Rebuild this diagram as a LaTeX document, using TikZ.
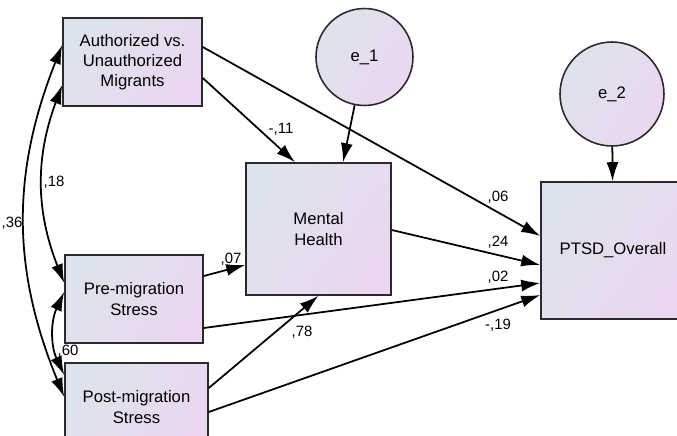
\documentclass[tikz,border=0pt]{standalone}
\usepackage{fontspec}
\setmainfont{Liberation Sans}
\usetikzlibrary{arrows.meta}
\definecolor{boxleft}{HTML}{DDE3EC}
\definecolor{boxright}{HTML}{EBD7F1}
\definecolor{edgegray}{HTML}{2A2A2A}

\begin{document}
\begin{tikzpicture}[x=0.02cm, y=-0.02cm,
    obs/.style={draw=edgegray, line width=0.9pt, left color=boxleft, right color=boxright,
      shading angle=55, align=center, inner sep=0pt, font=\fontsize{9.5}{11.5}\selectfont},
    err/.style={obs, circle},
    regr/.style={draw=black, line width=1pt, -{Latex[length=3.8mm, width=2.4mm]}},
    corr/.style={draw=black, line width=1pt, {Latex[length=3.8mm, width=2.4mm]}-{Latex[length=3.8mm, width=2.4mm]}},
    lab/.style={font=\fontsize{8.5}{9}\selectfont, inner sep=0pt}]
    \useasboundingbox (0,0) rectangle (677,436);
    \clip (0,0) rectangle (677,436);
    % observed variables
    \node[obs, minimum width=2.78cm, minimum height=1.76cm] (auth) at (132.5,62) {Authorized vs.\\Unauthorized\\Migrants};
    \node[obs, minimum width=2.76cm, minimum height=1.76cm] (pre) at (134,299) {Pre-migration\\Stress};
    \node[obs, minimum width=2.86cm, minimum height=1.76cm] (post) at (136.5,407) {Post-migration\\Stress};
    \node[obs, minimum width=2.90cm, minimum height=2.64cm] (mh) at (318.5,229) {Mental\\Health};
    \node[obs, minimum width=2.88cm, minimum height=2.74cm] (ptsd) at (613,250.5) {PTSD\_Overall};
    % error terms
    \node[err, minimum size=1.94cm] (e1) at (364.5,57) {e\_1};
    \node[err, minimum size=2.08cm] (e2) at (612,94) {e\_2};
    % regression paths
    \draw[regr] (e1) -- ([xshift=0.49cm]mh.north);
    \draw[regr] (e2) -- (ptsd);
    \draw[regr] ([yshift=-0.32cm]auth.east) -- ([xshift=-0.47cm]mh.north);
    \draw[regr] ([yshift=0.30cm]auth.east) -- ([yshift=0.29cm]ptsd.west);
    \draw[regr] ([yshift=-0.02cm]mh.east) -- ([yshift=-0.29cm]ptsd.west);
    \draw[regr] ([yshift=0.46cm]pre.east) -- ([yshift=-0.72cm]mh.west);
    \draw[regr] ([yshift=-0.58cm]pre.east) -- ([yshift=-0.65cm]ptsd.west);
    \draw[regr] ([yshift=0.38cm]post.east) -- (mh.south);
    \draw[regr] ([yshift=-0.10cm]post.east) -- ([yshift=-0.89cm]ptsd.west);
    % covariances
    \draw[corr] ([yshift=0.34cm]auth.west) to[bend right=22] ([yshift=0.20cm]post.west);
    \draw[corr] ([yshift=-0.46cm]auth.west) to[bend right=21] ([yshift=0.32cm]pre.west);
    \draw[corr] ([yshift=0.14cm]pre.west) to[bend right=25] ([yshift=0.64cm]post.west);
    % estimates
    \node[lab] (w36) at (12,223) {,36};
    \node[lab] (w18) at (54,182) {,18};
    \node[lab] (w60) at (68,351) {,60};
    \node[lab] (w11) at (281,129) {-,11};
    \node[lab] (w07) at (231,259) {,07};
    \node[lab] (w78) at (302,332) {,78};
    \node[lab] (w06) at (498,197) {,06};
    \node[lab] (w24) at (498,242) {,24};
    \node[lab] (w02) at (498,277) {,02};
    \node[lab] (w19) at (498,325) {-,19};
\end{tikzpicture}
\end{document}
